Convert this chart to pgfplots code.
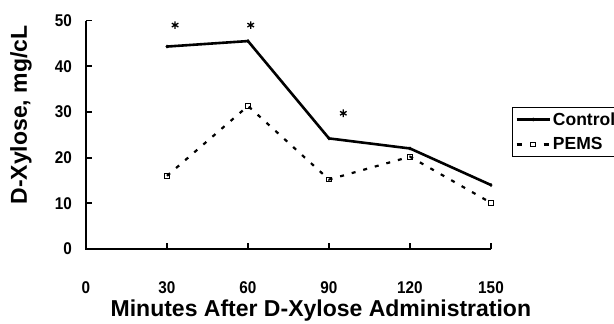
\documentclass[border=0pt]{standalone}
\usepackage{fontspec}
\setmainfont{Liberation Sans}
\newfontfamily\tickfont{Liberation Sans}[FakeStretch=0.9]
\usepackage{pgfplots}
\pgfplotsset{compat=1.18}
\begin{document}
\begin{tikzpicture}
\begin{axis}[
  name=ax,
  scale only axis, width=405pt, height=228.5pt,
  xmin=0, xmax=150, ymin=0, ymax=50,
  axis x line*=bottom, axis y line*=left,
  axis line style={line width=2.4pt, black},
  xtick={0,30,...,150}, ytick={0,10,...,50},
  tick align=inside, major tick length=6pt,
  tick style={line width=1.8pt, black},
  /pgf/number format/assume math mode=true,
  tick label style={font=\tickfont\fontsize{17}{19}\selectfont\bfseries, inner sep=0pt},
  xticklabel style={anchor=base, yshift=-44.3pt},
  yticklabel style={anchor=east, xshift=-14pt},
  xlabel={Minutes After D-Xylose Administration},
  every axis x label/.style={font=\fontsize{23}{26}\selectfont\bfseries, at={(axis description cs:0.58,0)}, yshift=-67.7pt, anchor=base, inner sep=0pt},
  ylabel={D-Xylose, mg/cL},
  every axis y label/.style={font=\fontsize{23}{26}\selectfont\bfseries, at={(axis description cs:0,0.586)}, xshift=-59pt, rotate=90, anchor=base, inner sep=0pt},
  legend style={at={(axis description cs:1.052,0.621)}, anchor=north west, draw=black, line width=0.6pt,
    font=\fontsize{17.5}{20}\selectfont\bfseries, inner xsep=3pt, inner ysep=3pt,
    nodes={inner sep=2pt}, row sep=7pt},
  legend cell align=left,
  legend image code/.code={\draw[mark repeat=2, mark phase=2, #1] plot coordinates {(0pt,0pt) (16.5pt,0pt) (33pt,0pt)};},
  clip=false,
]
\addplot[black, line width=2.6pt, mark=diamond*, mark size=1.6pt, mark options={line width=0.5pt}]
  coordinates {(30,44.3) (60,45.5) (90,24.2) (120,22.0) (150,14.0)};
\addlegendentry{Control}
\addplot[black, line width=2.2pt, dash pattern=on 4pt off 8pt, mark=square, mark size=2.3pt, mark options={solid, line width=0.9pt, fill=white},
  legend image post style={dash pattern=on 5pt off 22pt}]
  coordinates {(30,16) (60,31.3) (90,15.2) (120,20.2) (150,10.1)};
\addlegendentry{PEMS}
\addplot[black, only marks, mark=asterisk, mark size=3.8pt, mark options={line width=1.3pt}, forget plot]
  coordinates {(33,49) (61,49) (95.3,29.7)};
\draw[line width=2.4pt, black] (rel axis cs:0,1) -- (rel axis cs:0,0) -- (rel axis cs:1,0);
\end{axis}
\pgfresetboundingbox
\path (ax.south west) ++(-86pt,-75pt) rectangle ++(614pt,324pt);
\end{tikzpicture}
\end{document}
